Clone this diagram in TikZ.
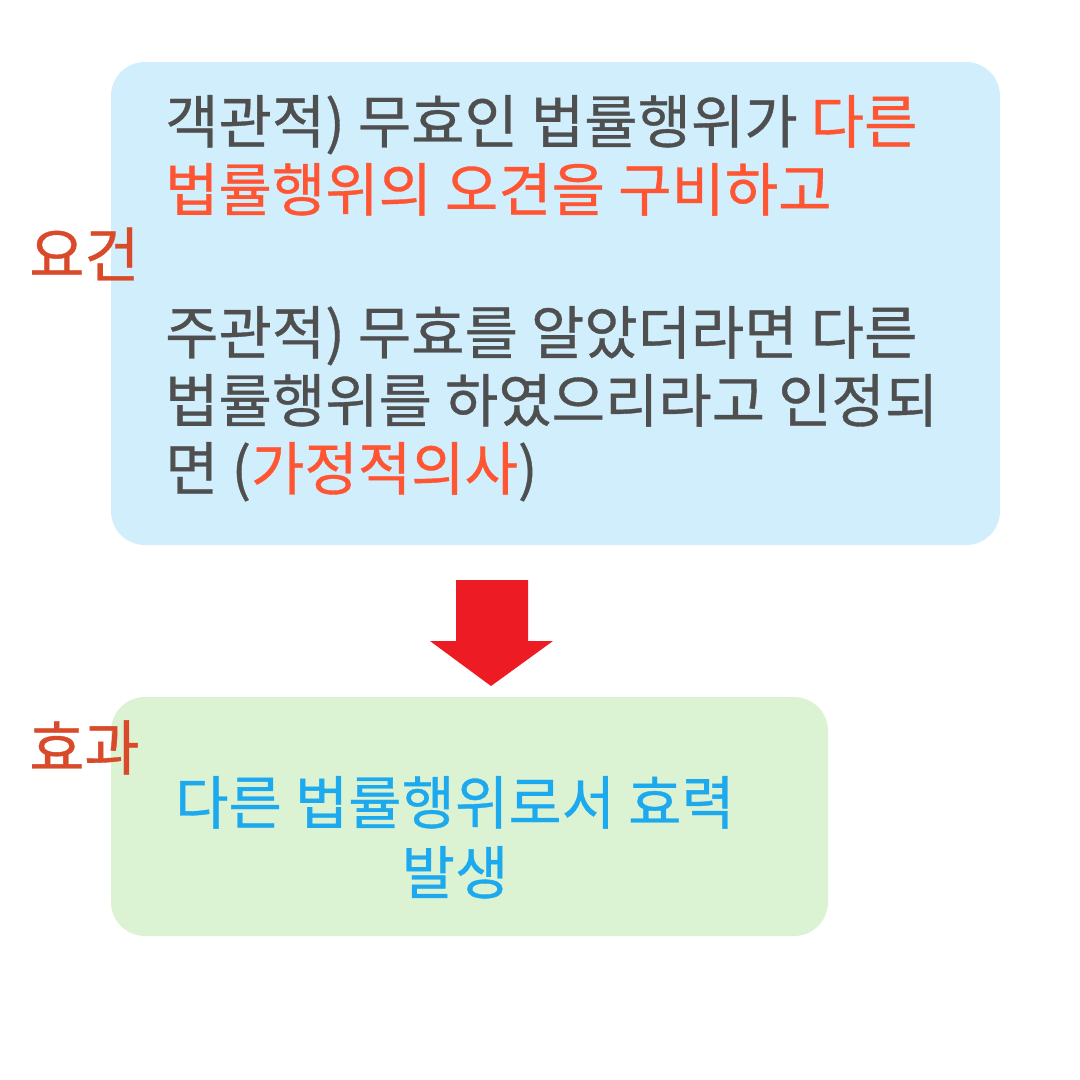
\documentclass[tikz,border=0pt]{standalone}
\usepackage{fontspec}
\newfontfamily\kr{Noto Sans CJK KR}[FakeBold=0.6]
\definecolor{boxblue}{HTML}{D0EEFC}
\definecolor{boxgreen}{HTML}{DCF3D3}
\definecolor{txtgray}{HTML}{4F4F4F}
\definecolor{hired}{HTML}{FF5533}
\definecolor{lblred}{HTML}{D94A2A}
\definecolor{txtblue}{HTML}{1DA9EE}
\definecolor{arrred}{HTML}{ED1C24}
\tikzset{
  line/.style={anchor=base west, inner sep=0pt, font=\kr\fontsize{58}{60}\selectfont, text=txtgray},
  cline/.style={anchor=base, inner sep=0pt, font=\kr\fontsize{58}{60}\selectfont, text=txtblue},
  lbl/.style={anchor=base west, inner sep=0pt, font=\kr\fontsize{60}{60}\selectfont, text=lblred},
  panel/.style={rounded corners=34pt}
}
\begin{document}
\begin{tikzpicture}[x=1pt,y=-1pt]
\useasboundingbox (0,0) rectangle (1080,1080);
\fill[white] (0,0) rectangle (1080,1080);
\fill[boxblue,panel] (111,62) rectangle (1000,545);
\fill[boxgreen,panel] (111,697) rectangle (828,936);
\fill[arrred] (456,580) -- (528,580) -- (528,641) -- (553,641) -- (491,686) -- (430,641) -- (456,641) -- cycle;
\node[line] (l1) at (165,143) {객관적) 무효인 법률행위가 \textcolor{hired}{다른}};
\node[line,text=hired] (l2) at (165,211) {법률행위의 오견을 구비하고};
\node[line] (l3) at (165,354) {주관적) 무효를 알았더라면 다른};
\node[line] (l4) at (165,422) {법률행위를 하였으리라고 인정되};
\node[line] (l5) at (165,490) {면 (\textcolor{hired}{가정적의사})};
\node[lbl] (req) at (29,277) {요건};
\node[lbl] (eff) at (29,770) {효과};
\node[cline] (b1) at (455,824) {다른 법률행위로서 효력};
\node[cline] (b2) at (455,894) {발생};
\end{tikzpicture}
\end{document}
